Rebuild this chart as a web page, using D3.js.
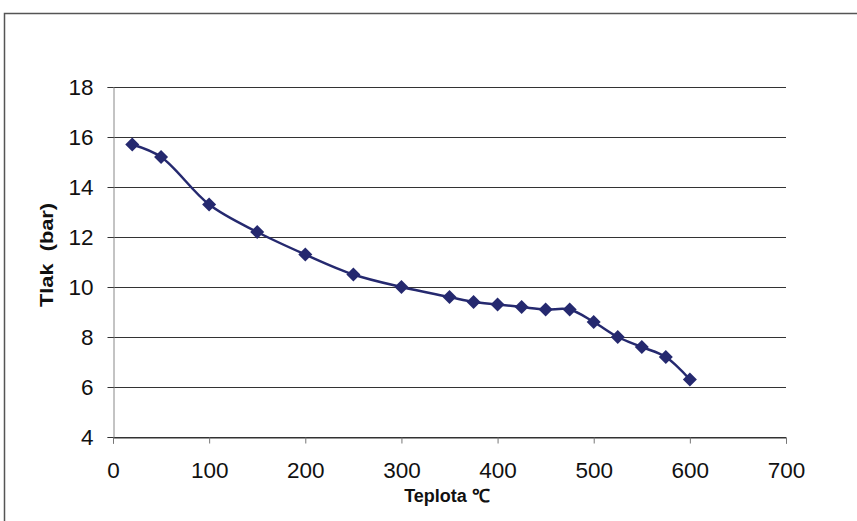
<!DOCTYPE html>
<html><head><meta charset="utf-8">
<script src="https://cdn.jsdelivr.net/npm/d3@7"></script>
<style>body{margin:0;background:#fff}svg{display:block}</style>
</head><body>
<svg id="c" width="857" height="521"></svg>
<script>
const temps = [20,50,100,150,200,250,300,350,375,400,425,450,475,500,525,550,575,600];
const pressures = [15.7,15.2,13.3,12.2,11.3,10.5,10.0,9.6,9.4,9.3,9.2,9.1,9.1,8.6,8.0,7.6,7.2,6.3];
const xTicks = [0,100,200,300,400,500,600,700];
const yTicks = [4,6,8,10,12,14,16,18];
const xTitle = "Teplota ℃";
const yTitle = "Tlak  (bar)";

const svg = d3.select("#c");
const font = "'Liberation Sans', Arial, sans-serif";
svg.append("rect").attr("x",4.5).attr("y",13.5).attr("width",870).attr("height",530)
  .attr("fill","none").attr("stroke","#555").attr("stroke-width",1.5);

const x = d3.scaleLinear().domain([0,700]).range([113,786]);
const y = d3.scaleLinear().domain([4,18]).range([437,87]);

// gridlines
svg.append("g").selectAll("line").data(yTicks).join("line")
  .attr("x1",113).attr("x2",786).attr("y1",d=>y(d)+0.5).attr("y2",d=>y(d)+0.5)
  .attr("stroke","#333").attr("stroke-width",1);

const xAxis = svg.append("g").attr("transform","translate(0,437.5)")
  .call(d3.axisBottom(x).tickValues(xTicks).tickSize(6).tickPadding(19));
xAxis.select(".domain").attr("stroke","#333");
xAxis.selectAll(".tick line").attr("stroke","#777");
xAxis.selectAll("text").attr("font-family",font).attr("font-size",22.5).attr("fill","#111");

const yAxis = svg.append("g").attr("transform","translate(113.5,0)")
  .call(d3.axisLeft(y).tickValues(yTicks).tickSize(6).tickPadding(14));
yAxis.select(".domain").attr("stroke","#888");
yAxis.selectAll(".tick line").attr("stroke","#333");
yAxis.selectAll("text").attr("font-family",font).attr("font-size",22.5).attr("fill","#111");

svg.append("text").attr("x",447).attr("y",502).attr("text-anchor","middle")
  .attr("font-family",font).attr("font-weight","bold").attr("font-size",18).attr("fill","#111").text(xTitle);
svg.append("text").attr("transform","translate(53,255) rotate(-90)").attr("text-anchor","middle")
  .attr("font-family",font).attr("font-weight","bold").attr("font-size",19).attr("fill","#111")
  .attr("textLength",104).attr("lengthAdjust","spacingAndGlyphs")
  .style("white-space","pre").text(yTitle);

const data = temps.map((t,i)=>({t, p:pressures[i]}));
const color = "#25296f";
svg.append("path").datum(data)
  .attr("d", d3.line().x(d=>x(d.t)).y(d=>y(d.p)).curve(d3.curveCatmullRom.alpha(0.5)))
  .attr("fill","none").attr("stroke",color).attr("stroke-width",2.5);

svg.append("g").selectAll("path").data(data).join("path")
  .attr("transform",d=>`translate(${x(d.t)},${y(d.p)})`)
  .attr("d","M0,-7L7,0L0,7L-7,0Z").attr("fill",color);
</script>
</body></html>
